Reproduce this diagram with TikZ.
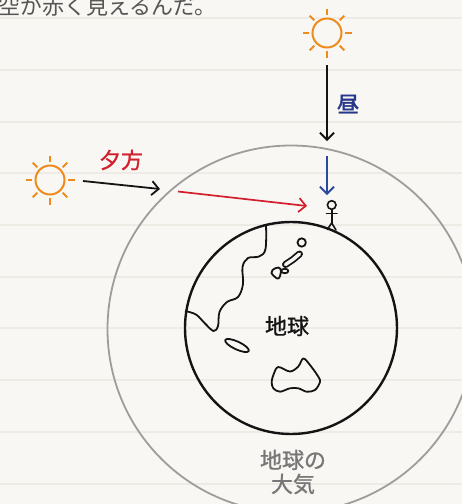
\documentclass[tikz,border=0pt]{standalone}
\usepackage{fontspec}
\usetikzlibrary{arrows.meta}
\newfontfamily\jp{Noto Sans CJK JP}
\newfontfamily\jpmed[FakeBold=1]{Noto Sans CJK JP}
\newfontfamily\jpbold[FakeBold=2]{Noto Sans CJK JP}
\definecolor{paper}{HTML}{F9F7F3}
\definecolor{ruling}{HTML}{EEEBE5}
\definecolor{sunorange}{HTML}{EF8B1C}
\definecolor{dusk}{HTML}{D21F2D}
\definecolor{noon}{HTML}{2B4A9E}
\definecolor{noonlabel}{HTML}{27378A}
\definecolor{air}{HTML}{9D9D9D}
\definecolor{airtext}{HTML}{777777}
\definecolor{ink}{HTML}{141414}
\definecolor{caption}{HTML}{555555}

\begin{document}
\begin{tikzpicture}[x=1pt,y=-1pt,
  ray/.style={sunorange, line width=2pt},
  sunbody/.style={circle, draw=sunorange, line width=2pt, minimum size=29pt, inner sep=0pt},
  beam/.style={line width=1.8pt, -{Straight Barb[length=7pt,width=14pt]}},
  coast/.style={ink, line width=1.8pt, line join=round},
  jptext/.style={font=\jp\fontsize{22pt}{24pt}\selectfont, inner sep=0pt},
  jpmedtext/.style={font=\jpmed\fontsize{22pt}{24pt}\selectfont, inner sep=0pt},
  figure/.style={ink, line width=1.6pt, line cap=round}
]
% paper with faint ruled lines
\fill[paper] (0,0) rectangle (462,504);
\useasboundingbox (0,0) rectangle (462,504);
\foreach \ry in {18.2,69.9,121.6,173.3,225,276.7,328.4,380.1,431.8,483.5}
  \draw[ruling, line width=2pt] (0,\ry) -- (462,\ry);

% caption line, running off the top edge
\node[jptext, text=caption, anchor=west] (captionText) at (-2,6) {空が赤く見えるんだ。};

% atmosphere and earth
\node[circle, draw=air, line width=1.8pt, minimum size=367pt, inner sep=0pt] (atmos) at (291,329) {};
\node[circle, draw=ink, line width=2.4pt, minimum size=212pt, inner sep=0pt] (earth) at (291,328) {};

% continent coastline
\draw[coast] plot[smooth, tension=0.6] coordinates {
  (266,224) (265.5,249) (259,256.5) (248,258) (242.5,267) (243,284)
  (238,297) (227,302) (219.5,312) (218,326) (213.5,331) (205,323.5)
  (196,314.5) (185,311)};

% japan
\draw[coast] (301.7,242.5) circle[radius=4.2pt];
\draw[ink, line width=7pt, line cap=round, line join=round]
  (299.5,254) -- (293,259.5) -- (285.5,264.5);
\draw[paper, line width=3.4pt, line cap=round, line join=round]
  (299.5,254) -- (293,259.5) -- (285.5,264.5);
\draw[coast] (284.8,271) ellipse[x radius=3.6pt, y radius=2.2pt];
\draw[coast] plot[smooth cycle, tension=0.7] coordinates {
  (272.5,270) (278.5,267.5) (281,271.5) (278.5,278.5) (274.5,276.5) (271.5,273)};

% island
\draw[coast, rotate around={-25:(237,345.5)}] (237,345.5) ellipse[x radius=13pt, y radius=3.9pt];

% australia
\draw[coast] plot[smooth cycle, tension=0.55] coordinates {
  (278.3,367) (290,371.5) (298.3,366.5) (303.3,358.5) (310,365)
  (318.3,376.7) (320,382) (315,390) (306.7,391.7) (298.3,388.3)
  (290,388.3) (280,391.7) (273.3,388.3) (271.7,381.7) (274,373.3)};

\node[jpmedtext, text=ink] (earthLabel) at (287,326) {地球};
\node[jpmedtext, text=airtext, align=center] (airLabel) at (293,472) {地球の\\大気};

% person on the surface
\node[circle, draw=ink, line width=1.6pt, minimum size=8.6pt, inner sep=0pt] (head) at (331.7,205) {};
\coordinate (hip) at (331.7,223);
\coordinate (armL) at (326.5,213.5);
\coordinate (armR) at (337,213.5);
\coordinate (footL) at (327.3,229.5);
\coordinate (footR) at (336,230);
\draw[figure] (head.south) -- (hip);
\draw[figure] (armL) -- (armR);
\draw[figure] (footL) -- (hip) -- (footR);

% suns
\node[sunbody] (sunTop) at (327,33) {};
\node[sunbody] (sunLeft) at (50,180) {};
\foreach \a in {0,45,...,315} {
  \draw[ray] (sunTop.center) ++(\a:18pt) -- ++(\a:6.5pt);
  \draw[ray] (sunLeft.center) ++(\a:18pt) -- ++(\a:6.5pt);
}

% midday light
\coordinate (noonStart) at (327,65);
\coordinate (noonEnd) at (327,141);
\coordinate (noonAirStart) at (327,156);
\coordinate (noonAirEnd) at (327,195);
\draw[beam, ink] (noonStart) -- (noonEnd);
\draw[beam, noon] (noonAirStart) -- (noonAirEnd);
\node[font=\jpbold\fontsize{22pt}{24pt}\selectfont, inner sep=0pt, text=noonlabel] (noonLabel) at (348,104) {昼};

% evening light
\coordinate (duskStart) at (83,181);
\coordinate (duskEnd) at (160,189);
\coordinate (duskAirStart) at (178,191.5);
\coordinate (duskAirEnd) at (307,206);
\draw[beam, ink] (duskStart) -- (duskEnd);
\draw[beam, dusk, line width=1.7pt] (duskAirStart) -- (duskAirEnd);
\node[jpmedtext, text=dusk] (duskLabel) at (121,160) {夕方};
\end{tikzpicture}
\end{document}
